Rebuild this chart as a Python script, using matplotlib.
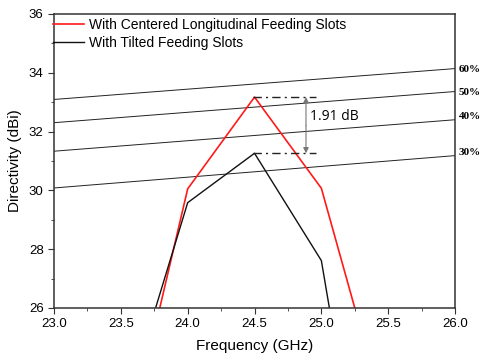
import numpy as np
import matplotlib.pyplot as plt
from matplotlib.ticker import MultipleLocator

# curves (frequency in GHz, directivity in dBi)
freq = [23.5, 23.75, 24.0, 24.5, 25.0, 25.25, 25.5]
d_centered = [20.4, 25.2, 30.05, 33.17, 30.07, 26.0, 21.9]
d_tilted = [22.1, 25.85, 29.58, 31.26, 27.61, 20.9, 14.2]

# aperture efficiency reference lines (value at 23 GHz and 26 GHz)
eff_labels = ['60%', '50%', '40%', '30%']
eff_start = [33.09, 32.30, 31.33, 30.08]
eff_end = [34.14, 33.36, 32.40, 31.18]
eff_label_y = [34.11, 33.32, 32.51, 31.28]

plt.rcParams['font.family'] = 'Liberation Sans'

fig = plt.figure(figsize=(4.8, 3.56), dpi=100)
ax = fig.add_axes([0.1125, 0.135, 0.8355, 0.826])

for lab, y0, y1, ly in zip(eff_labels, eff_start, eff_end, eff_label_y):
    ax.plot([23.0, 26.0], [y0, y1], color='#222222', lw=0.7)
    ax.text(26.03, ly, lab, fontsize=8, fontweight='bold', family='Liberation Serif',
            va='center', ha='left', clip_on=False)

ax.plot(freq, d_centered, color='#ff1a1a', lw=1.2, label='With Centered Longitudinal Feeding Slots')
ax.plot(freq, d_tilted, color='#111111', lw=1.0, label='With Tilted Feeding Slots')

# 1.91 dB annotation
ax.plot([24.49, 24.96], [33.17, 33.17], color='#222222', lw=1.0, ls=(0, (6, 3, 1.5, 3)))
ax.plot([24.49, 24.96], [31.26, 31.26], color='#222222', lw=1.0, ls=(0, (6, 3, 1.5, 3)))
ax.annotate('', xy=(24.885, 33.17), xytext=(24.885, 32.2),
            arrowprops=dict(arrowstyle='-|>', color='#777777', lw=0.8, mutation_scale=8,
                            shrinkA=0, shrinkB=0))
ax.annotate('', xy=(24.885, 31.26), xytext=(24.885, 32.2),
            arrowprops=dict(arrowstyle='-|>', color='#777777', lw=0.8, mutation_scale=8,
                            shrinkA=0, shrinkB=0))
ax.text(24.915, 32.52, '1.91 dB', fontsize=10, family='Open Sans', va='center', ha='left')

ax.set_xlim(23.0, 26.0)
ax.set_ylim(26, 36)
ax.xaxis.set_major_locator(MultipleLocator(0.5))
ax.xaxis.set_minor_locator(MultipleLocator(0.25))
ax.yaxis.set_major_locator(MultipleLocator(2))
ax.yaxis.set_minor_locator(MultipleLocator(1))
ax.tick_params(which='both', direction='out', labelsize=9.5, color='#333333', top=False, right=False)
ax.tick_params(which='major', length=4)
ax.tick_params(which='minor', length=2.5)
for s in ax.spines.values():
    s.set_linewidth(1.1)
    s.set_color('#333333')

ax.set_xlabel('Frequency (GHz)', fontsize=11, labelpad=6)
ax.set_ylabel('Directivity (dBi)', fontsize=11, labelpad=5)

ax.legend(loc='upper left', bbox_to_anchor=(-0.005, 0.99), frameon=False, fontsize=10,
          handlelength=2.2, handletextpad=0.35, labelspacing=0.25, borderaxespad=0, borderpad=0.1)

fig.savefig('out.png', dpi=100)
